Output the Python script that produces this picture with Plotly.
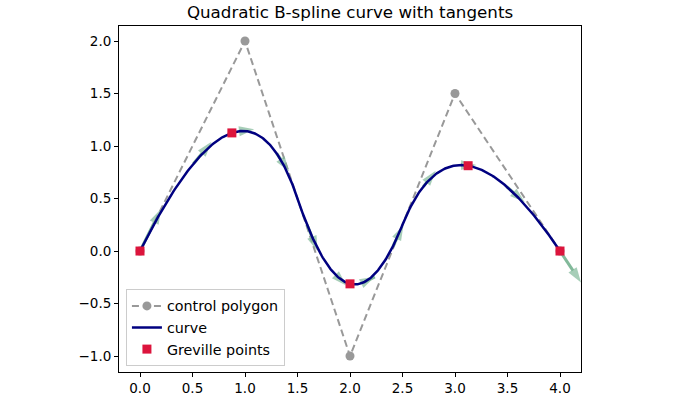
import numpy as np
import plotly.graph_objects as go

# ---- data ----
ctrl_x = [0.0, 1.0, 2.0, 3.0, 4.0]
ctrl_y = [0.0, 2.0, -1.0, 1.5, 0.0]
knots = [0, 0, 0, 1, 2, 3, 3, 3]
degree = 2
n_tangents = 12
tangent_scale = 0.1
x_ticks = [0.0, 0.5, 1.0, 1.5, 2.0, 2.5, 3.0, 3.5, 4.0]
y_ticks = [-1.0, -0.5, 0.0, 0.5, 1.0, 1.5, 2.0]

P = np.column_stack([ctrl_x, ctrl_y])
T = np.array(knots, dtype=float)


def basis(i, p, t):
    if p == 0:
        if T[i] <= t < T[i + 1] or (t == T[-1] and T[i] < t <= T[i + 1]):
            return 1.0
        return 0.0
    a = 0.0
    if T[i + p] != T[i]:
        a = (t - T[i]) / (T[i + p] - T[i]) * basis(i, p - 1, t)
    b = 0.0
    if T[i + p + 1] != T[i + 1]:
        b = (T[i + p + 1] - t) / (T[i + p + 1] - T[i + 1]) * basis(i + 1, p - 1, t)
    return a + b


def dbasis(i, p, t):
    a = 0.0
    if T[i + p] != T[i]:
        a = p / (T[i + p] - T[i]) * basis(i, p - 1, t)
    b = 0.0
    if T[i + p + 1] != T[i + 1]:
        b = p / (T[i + p + 1] - T[i + 1]) * basis(i + 1, p - 1, t)
    return a - b


def curve(t):
    return sum(basis(i, degree, t) * P[i] for i in range(len(P)))


def dcurve(t):
    return sum(dbasis(i, degree, t) * P[i] for i in range(len(P)))


ts = np.linspace(T[0], T[-1], 400)
C = np.array([curve(t) for t in ts])

# Greville abscissae
grev = [sum(T[i + 1:i + degree + 1]) / degree for i in range(len(P))]
G = np.array([curve(t) for t in grev])

fig = go.Figure()

fig.add_trace(go.Scatter(
    x=ctrl_x, y=ctrl_y, mode="lines+markers", name="control polygon",
    legendgroup="a",
    line=dict(color="#999999", width=2, dash="7px,4px"),
    marker=dict(color="#999999", size=9, symbol="circle"),
))

# tangent arrows
arrow_col = "#82b99a"
for t in np.linspace(T[0], T[-1], n_tangents):
    p0 = curve(t)
    d = dcurve(t) * tangent_scale
    fig.add_trace(go.Scatter(
        x=[p0[0], p0[0] + d[0]], y=[p0[1], p0[1] + d[1]],
        mode="lines+markers", showlegend=False, hoverinfo="skip",
        legendgroup="a",
        line=dict(color=arrow_col, width=3),
        marker=dict(symbol="arrow", angleref="previous", size=[0, 16],
                    color=arrow_col, line=dict(width=0)),
        cliponaxis=False,
    ))

fig.add_trace(go.Scatter(
    x=C[:, 0], y=C[:, 1], mode="lines", name="curve", legendgroup="b",
    line=dict(color="#000080", width=2.5),
))

fig.add_trace(go.Scatter(
    x=G[:, 0], y=G[:, 1], mode="markers", name="Greville points",
    legendgroup="c",
    marker=dict(color="#DC143C", size=9, symbol="square"),
))

axis_common = dict(
    showline=True, mirror=True, linecolor="black", linewidth=1,
    ticks="outside", ticklen=4, tickcolor="black", showgrid=False,
    zeroline=False, tickformat=".1f", automargin=False,
    tickfont=dict(family="DejaVu Sans", size=13.5, color="black"),
)

fig.update_layout(
    width=700, height=400,
    margin=dict(l=119, r=119, t=26, b=28),
    paper_bgcolor="white", plot_bgcolor="white",
    title=dict(text="Quadratic B-spline curve with tangents",
               x=0.5, xanchor="center", y=1 - 12 / 400, yanchor="middle",
               font=dict(family="DejaVu Sans", size=16.7, color="black")),
    xaxis=dict(range=[-0.2, 4.2], tickvals=x_ticks, **axis_common),
    yaxis=dict(range=[-1.152, 2.143], tickvals=y_ticks, **axis_common),
    legend=dict(x=0.015, y=0.017, xanchor="left", yanchor="bottom",
                bgcolor="rgba(255,255,255,0.8)", bordercolor="#cccccc",
                borderwidth=1, font=dict(family="DejaVu Sans", size=14.3,
                                         color="black"),
                tracegroupgap=0),
    showlegend=True,
)

fig.write_html("out.html")
